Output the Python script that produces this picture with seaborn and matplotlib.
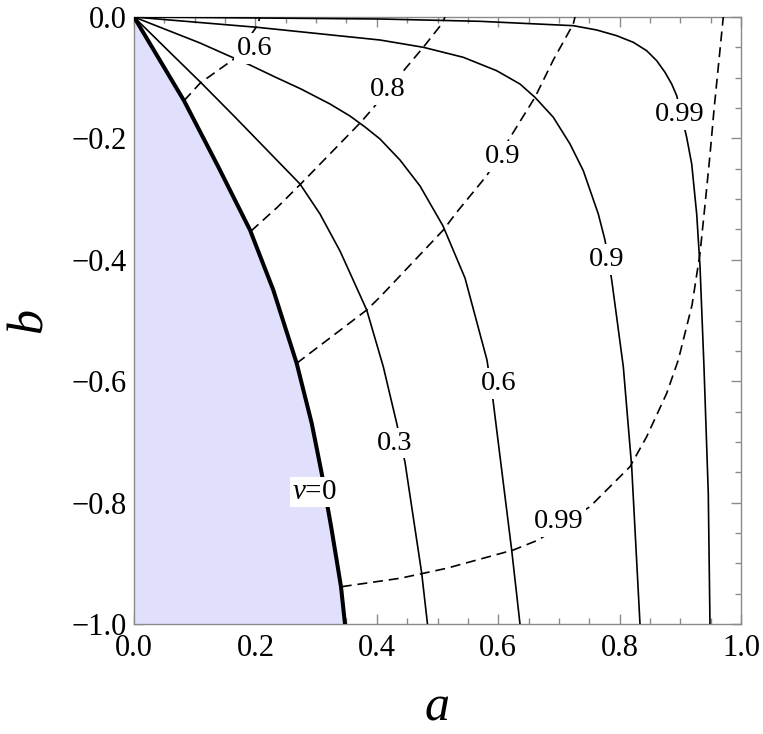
import matplotlib
matplotlib.use('Agg')
import matplotlib.pyplot as plt
import seaborn as sns
from matplotlib.ticker import MultipleLocator, FuncFormatter

# curves, (a, b) pairs
# thick boundary nu = 0
nu0_a = [0, 0.0824, 0.1390, 0.1911, 0.2295, 0.2680, 0.2928, 0.3092, 0.3257, 0.3410, 0.3476]
nu0_b = [0, -0.1379, -0.2471, -0.3509, -0.4498, -0.5705, -0.6694, -0.7517, -0.8451, -0.9385, -1.0]

# solid contours
s03_a = [0, 0.0544, 0.1092, 0.1647, 0.2191, 0.2735, 0.3064, 0.3394, 0.3834, 0.4107, 0.4328, 0.4465, 0.4740, 0.4835]
s03_b = [0, -0.0535, -0.1071, -0.1631, -0.2191, -0.2751, -0.3245, -0.3855, -0.4827, -0.5761, -0.6694, -0.7339, -0.9165, -1.0]

s06_a = [0, 0.0544, 0.1087, 0.1532, 0.1911, 0.2323, 0.2751, 0.3229, 0.3558, 0.3806, 0.4053, 0.4382,
         0.4712, 0.5091, 0.5453, 0.5815, 0.5914, 0.6222, 0.6359]
s06_b = [0, -0.0214, -0.0428, -0.0626, -0.0791, -0.0988, -0.1186, -0.1433, -0.1631, -0.1812, -0.2010, -0.2356,
         -0.2784, -0.3443, -0.4300, -0.5651, -0.6310, -0.8781, -1.0]

s09_a = [0, 0.2031, 0.4053, 0.4766, 0.5425, 0.5975, 0.6359, 0.6606, 0.6908, 0.7183, 0.7402, 0.7649,
         0.7759, 0.7870, 0.8061, 0.8199, 0.8336]
s09_b = [0, -0.0170, -0.0379, -0.0499, -0.0664, -0.0885, -0.1104, -0.1323, -0.1652, -0.2092, -0.2532, -0.3245,
         -0.3674, -0.4333, -0.5761, -0.7409, -1.0]

s099_a = [0, 0.2026, 0.4053, 0.5700, 0.7237, 0.7623, 0.7952, 0.8226, 0.8446, 0.8611, 0.8748, 0.8858, 0.8941,
          0.9105, 0.9188, 0.9270, 0.9325, 0.9390, 0.9461, 0.9489]
s099_b = [0, -0.0016, -0.0033, -0.0071, -0.0143, -0.0214, -0.0308, -0.0417, -0.0555, -0.0720, -0.0911, -0.1104,
          -0.1297, -0.1982, -0.2422, -0.3245, -0.4114, -0.5761, -0.7847, -1.0]

# dashed contours
d06_a = [0.0824, 0.1092, 0.1647, 0.2031, 0.2076]
d06_b = [-0.1379, -0.1087, -0.0692, -0.0143, 0.0]

d08_a = [0.1928, 0.2361, 0.2746, 0.3735, 0.3926, 0.4465, 0.4766, 0.5069, 0.5124]
d08_b = [-0.3526, -0.3135, -0.2751, -0.1735, -0.1516, -0.0857, -0.0499, -0.0115, 0.0]

d09_a = [0.2680, 0.3834, 0.4053, 0.5096, 0.5316, 0.5811, 0.6249, 0.6606, 0.6908, 0.7237, 0.7265]
d09_b = [-0.5705, -0.4827, -0.4613, -0.3509, -0.3217, -0.2614, -0.1900, -0.1323, -0.0708, -0.0115, 0.0]

d099_a = [0.3422, 0.4382, 0.4766, 0.5152, 0.6249, 0.6661, 0.7512, 0.8171, 0.8446, 0.8776, 0.8967, 0.9193,
          0.9325, 0.9407, 0.9489, 0.9555, 0.9629, 0.9708]
d099_b = [-0.9385, -0.9247, -0.9165, -0.9082, -0.8781, -0.8616, -0.8067, -0.7409, -0.6914, -0.6199, -0.5651, -0.4746,
          -0.3893, -0.3097, -0.2273, -0.1532, -0.0791, 0.0]

# contour labels: text, a, b
solid_labels = [('0.3', 0.430, -0.702), ('0.6', 0.600, -0.6035), ('0.9', 0.779, -0.400), ('0.99', 0.8995, -0.161)]
dashed_labels = [('0.6', 0.199, -0.052), ('0.8', 0.4185, -0.120), ('0.9', 0.608, -0.230), ('0.99', 0.699, -0.831)]

sns.set_theme(style='ticks')
plt.rcParams['font.family'] = ['Liberation Serif', 'DejaVu Serif']
plt.rcParams['mathtext.fontset'] = 'custom'
plt.rcParams['mathtext.rm'] = 'Liberation Serif'
plt.rcParams['mathtext.it'] = 'Liberation Serif:italic'
plt.rcParams['text.color'] = 'black'
plt.rcParams['axes.labelcolor'] = 'black'

fig = plt.figure(figsize=(7.63, 7.34), dpi=100)
ax = fig.add_axes([134 / 763, 1 - 624 / 734, 607 / 763, 607 / 734])

# shaded region left of nu = 0
ax.fill_betweenx(nu0_b, 0, nu0_a, color='#e0e0fc', lw=0, zorder=1)

for xs, ys in [(s03_a, s03_b), (s06_a, s06_b), (s09_a, s09_b), (s099_a, s099_b)]:
    sns.lineplot(x=xs, y=ys, sort=False, estimator=None, color='black', linewidth=1.2, ax=ax, zorder=3)

for xs, ys in [(d06_a, d06_b), (d08_a, d08_b), (d09_a, d09_b), (d099_a, d099_b)]:
    sns.lineplot(x=xs, y=ys, sort=False, estimator=None, color='black', linewidth=1.2,
                 linestyle=(0, (6, 3.5)), ax=ax, zorder=3)

sns.lineplot(x=nu0_a, y=nu0_b, sort=False, estimator=None, color='black', linewidth=2.9, ax=ax, zorder=4)

box = dict(facecolor='white', edgecolor='none', pad=2)
for txt, xa, yb in solid_labels + dashed_labels:
    ax.text(xa, yb, txt, ha='center', va='center', fontsize=20.5, color='black', bbox=box, zorder=6)
ax.text(0.298, -0.782, r'$\nu$=0', ha='center', va='center', fontsize=21, color='black',
        bbox=dict(facecolor='white', edgecolor='none', pad=1.5), zorder=6)

ax.set_xlim(0, 1)
ax.set_ylim(-1, 0)
ax.xaxis.set_major_locator(MultipleLocator(0.2))
ax.xaxis.set_minor_locator(MultipleLocator(0.05))
ax.yaxis.set_major_locator(MultipleLocator(0.2))
ax.yaxis.set_minor_locator(MultipleLocator(0.05))
fmt = FuncFormatter(lambda v, pos: ('%.1f' % v).replace('-', '\u2212'))
ax.xaxis.set_major_formatter(fmt)
ax.yaxis.set_major_formatter(fmt)

ax.tick_params(which='both', direction='in', top=True, right=True, color='#8a8a8a', width=1)
ax.tick_params(which='major', length=7, labelsize=22, labelcolor='black')
ax.tick_params(which='minor', length=4)
ax.tick_params(axis='x', pad=7)
ax.tick_params(axis='y', pad=5)
for sp in ax.spines.values():
    sp.set_color('#8a8a8a')
    sp.set_linewidth(1)

ax.set_xlabel('a', fontstyle='italic', fontsize=36, labelpad=16)
ax.set_ylabel('b', fontstyle='italic', fontsize=36, labelpad=14)

fig.savefig('out.png', dpi=100)
